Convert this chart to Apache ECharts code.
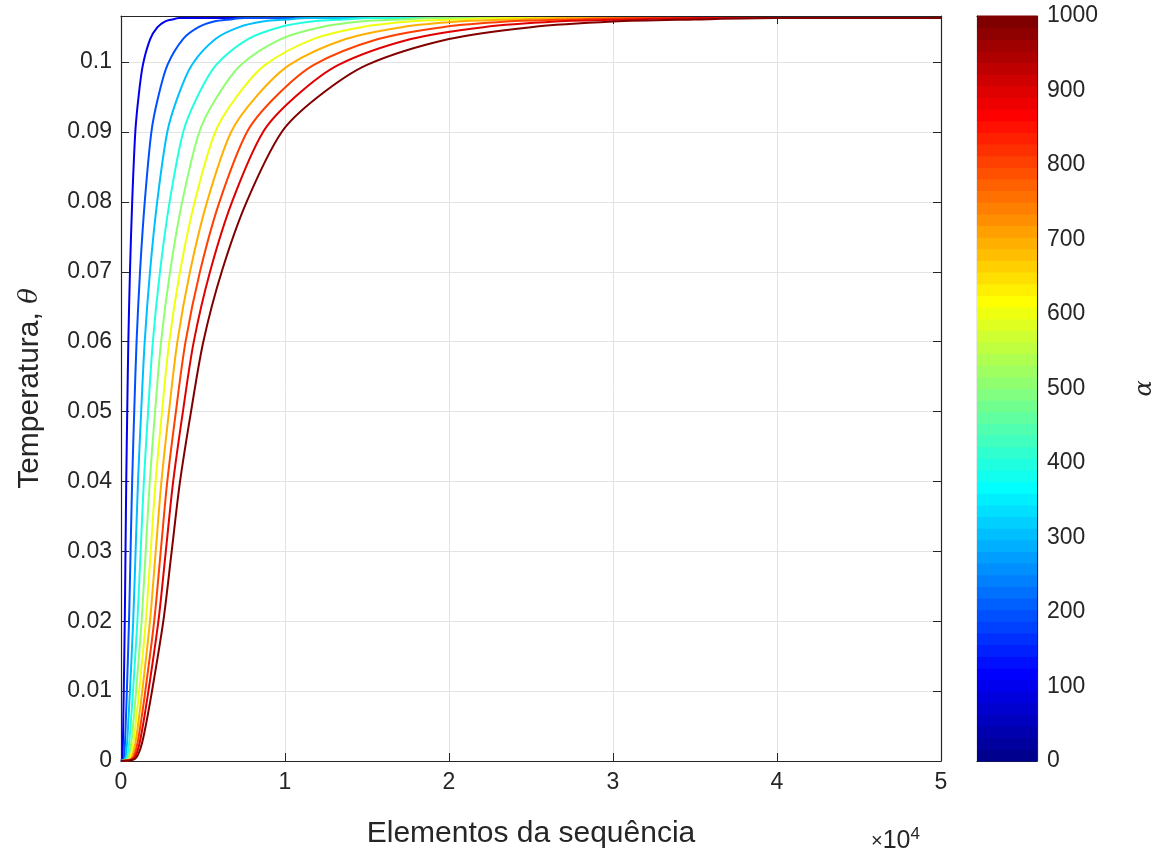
<!DOCTYPE html>
<html><head><meta charset="utf-8">
<script src="https://cdn.jsdelivr.net/npm/echarts@6/dist/echarts.min.js"></script>
<style>html,body{margin:0;padding:0;background:#fff}#c{width:1159px;height:857px}</style>
</head><body><div id="c"></div>
<script>
// ---------- data ----------
const alphaValues = [100, 200, 300, 400, 500, 600, 700, 800, 900, 1000];
// temperature levels at which each curve's x position was read
const thetaLevels = [0, 0.0003, 0.0016, 0.004, 0.01, 0.02, 0.03, 0.04, 0.05, 0.06, 0.07, 0.08, 0.09, 0.095, 0.0996, 0.1033, 0.1050, 0.1058, 0.1061, 0.1063, 0.1063];
const x100  = [0, 76, 103, 126, 168, 230, 275, 320, 380, 447, 546, 682, 872, 1068, 1335, 1780, 2225, 2670, 3115, 3560, 50000];
const x200  = [0, 161, 219, 268, 357, 488, 584, 680, 807, 949, 1160, 1448, 1852, 2268, 2835, 3780, 4725, 5670, 6615, 7560, 50000];
const x300  = [0, 245, 334, 409, 544, 743, 890, 1037, 1230, 1446, 1768, 2206, 2822, 3456, 4320, 5760, 7200, 8640, 10080, 11520, 50000];
const x400  = [0, 329, 449, 550, 731, 998, 1196, 1393, 1652, 1943, 2376, 2964, 3793, 4644, 5805, 7740, 9675, 11610, 13545, 15480, 50000];
const x500  = [0, 414, 565, 692, 920, 1256, 1505, 1753, 2079, 2445, 2990, 3730, 4773, 5844, 7305, 9740, 12175, 14610, 17045, 19480, 50000];
const x600  = [0, 498, 680, 832, 1108, 1512, 1811, 2110, 2502, 2942, 3598, 4489, 5743, 7032, 8790, 11720, 14650, 17580, 20510, 23440, 50000];
const x700  = [0, 582, 795, 973, 1295, 1767, 2117, 2466, 2925, 3439, 4206, 5247, 6713, 8220, 10275, 13700, 17125, 20550, 23975, 27400, 50000];
const x800  = [0, 666, 909, 1113, 1482, 2023, 2423, 2822, 3348, 3936, 4814, 6005, 7683, 9408, 11760, 15680, 19600, 23520, 27440, 31360, 50000];
const x900  = [0, 751, 1025, 1255, 1671, 2281, 2732, 3182, 3775, 4438, 5428, 6771, 8663, 10608, 13260, 17680, 22100, 26520, 30940, 35360, 50000];
const x1000 = [0, 850, 1160, 1420, 1890, 2580, 3090, 3600, 4270, 5020, 6140, 7660, 9800, 12000, 15000, 20000, 25000, 30000, 35000, 40000, 50000];
const curveXs = [x100, x200, x300, x400, x500, x600, x700, x800, x900, x1000];
const xTicks = [0, 10000, 20000, 30000, 40000, 50000];
const yTicks = [0, 0.01, 0.02, 0.03, 0.04, 0.05, 0.06, 0.07, 0.08, 0.09, 0.1];
const cbTicks = [0, 100, 200, 300, 400, 500, 600, 700, 800, 900, 1000];

// ---------- jet colormap (style) ----------
function jetColor(i) { // i: 1..64
  const u = k => (k < 1 || k > 47) ? 0 : (k <= 16 ? k / 16 : (k <= 31 ? 1 : (48 - k) / 16));
  const r = Math.round(u(i - 24) * 255), g = Math.round(u(i - 8) * 255), b = Math.round(u(i + 8) * 255);
  return 'rgb(' + r + ',' + g + ',' + b + ')';
}
function colorFor(a) { return jetColor(Math.min(64, Math.floor(a / 1000 * 64) + 1)); }

const cbData = [];
for (let i = 1; i <= 64; i++) cbData.push([(i - 1) * 1000 / 64, i * 1000 / 64, i]);

const AX = '#262626', GRID = '#e3e3e3';
const FONT = "'Liberation Sans', Arial, sans-serif";

const series = alphaValues.map((a, k) => ({
  type: 'line', name: 'α=' + a, xAxisIndex: 0, yAxisIndex: 0,
  data: curveXs[k].map((x, i) => [x, thetaLevels[i]]),
  showSymbol: false, smooth: 0.3,
  lineStyle: { color: colorFor(a), width: 2 }, z: 3 + k, animation: false
}));
series.push({
  type: 'custom', xAxisIndex: 2, yAxisIndex: 2, data: cbData, animation: false,
  encode: { y: [0, 1] }, silent: true,
  renderItem: function (params, api) {
    const lo = api.value(0), hi = api.value(1);
    const p0 = api.coord([0, lo]), p1 = api.coord([1, hi]);
    const c = jetColor(api.value(2));
    return { type: 'rect', shape: { x: p0[0], y: p1[1] - 0.5, width: p1[0] - p0[0], height: p0[1] - p1[1] + 1 }, style: { fill: c } };
  }
});

function yfmt(v) {
  const r = Math.round(v * 100) / 100;
  if (Math.abs(v - r) > 1e-9) return '';
  return String(r);
}

const chart = echarts.init(document.getElementById('c'), null, { renderer: 'canvas' });
chart.setOption({
  backgroundColor: '#fff',
  animation: false,
  grid: [
    { left: 121, top: 16, width: 820, height: 745 },
    { left: 977, top: 16, width: 60, height: 745 }
  ],
  xAxis: [
    { type: 'value', gridIndex: 0, min: 0, max: 50000, interval: 10000, position: 'bottom',
      axisLine: { show: true, onZero: false, lineStyle: { color: AX, width: 1.2 } },
      axisTick: { show: true, inside: true, length: 8, lineStyle: { color: AX } },
      axisLabel: { color: AX, fontSize: 23, fontFamily: FONT, margin: 10, formatter: v => String(v / 10000) },
      splitLine: { show: true, lineStyle: { color: GRID, width: 1 } },
      name: 'Elementos da sequência', nameLocation: 'middle', nameGap: 58,
      nameTextStyle: { color: AX, fontSize: 30, fontFamily: FONT } },
    { type: 'value', gridIndex: 0, min: 0, max: 50000, interval: 10000, position: 'top',
      axisLine: { show: true, onZero: false, lineStyle: { color: AX, width: 1.2 } },
      axisTick: { show: true, inside: true, length: 8, lineStyle: { color: AX } },
      axisLabel: { show: false }, splitLine: { show: false } },
    { type: 'value', gridIndex: 1, min: 0, max: 1, position: 'bottom',
      axisLine: { show: true, onZero: false, lineStyle: { color: AX, width: 1.2 } },
      axisTick: { show: false }, axisLabel: { show: false }, splitLine: { show: false } },
    { type: 'value', gridIndex: 1, min: 0, max: 1, position: 'top',
      axisLine: { show: true, onZero: false, lineStyle: { color: AX, width: 1.2 } },
      axisTick: { show: false }, axisLabel: { show: false }, splitLine: { show: false } }
  ],
  yAxis: [
    { type: 'value', gridIndex: 0, min: 0, max: 0.1066, interval: 0.01, position: 'left',
      axisLine: { show: true, onZero: false, lineStyle: { color: AX, width: 1.2 } },
      axisTick: { show: true, inside: true, length: 8, lineStyle: { color: AX } },
      axisLabel: { color: AX, fontSize: 23, fontFamily: FONT, margin: 9, formatter: yfmt, showMaxLabel: false },
      splitLine: { show: true, lineStyle: { color: GRID, width: 1 } },
      name: '{a|Temperatura, }{b|θ}', nameLocation: 'middle', nameGap: 76, nameRotate: 90,
      nameTextStyle: { color: AX, fontSize: 30, fontFamily: FONT,
        rich: { a: { color: AX, fontSize: 30, fontFamily: FONT }, b: { color: AX, fontSize: 26, fontStyle: 'italic', fontFamily: "'DejaVu Serif', serif" } } } },
    { type: 'value', gridIndex: 0, min: 0, max: 0.1066, interval: 0.01, position: 'right',
      axisLine: { show: true, onZero: false, lineStyle: { color: AX, width: 1.2 } },
      axisTick: { show: true, inside: true, length: 8, lineStyle: { color: AX } },
      axisLabel: { show: false }, splitLine: { show: false } },
    { type: 'value', gridIndex: 1, min: 0, max: 1000, interval: 100, position: 'right',
      axisLine: { show: true, onZero: false, lineStyle: { color: AX, width: 1.2 } },
      axisTick: { show: true, inside: true, length: 7, lineStyle: { color: AX } },
      axisLabel: { color: AX, fontSize: 23, fontFamily: FONT, margin: 10, formatter: v => String(v) },
      splitLine: { show: false },
      name: 'α', nameLocation: 'middle', nameGap: 96, nameRotate: 90,
      nameTextStyle: { color: AX, fontSize: 24, fontStyle: 'italic', fontFamily: "'DejaVu Serif', serif" } },
    { type: 'value', gridIndex: 1, min: 0, max: 1000, position: 'left',
      axisLine: { show: true, onZero: false, lineStyle: { color: AX, width: 1.2 } },
      axisTick: { show: false }, axisLabel: { show: false }, splitLine: { show: false } }
  ],
  graphic: [
    { type: 'text', left: 871, top: 826, z: 10,
      style: { text: '{x|×}10{s|4}', fill: AX, font: "25px 'Liberation Sans', Arial, sans-serif",
        rich: { x: { fontSize: 20, fontFamily: FONT, fill: AX }, s: { fontSize: 17, fontFamily: FONT, fill: AX, verticalAlign: 'top', padding: [0, 0, 14, 0] } } } }
  ],
  series: series
});
</script>
</body></html>
